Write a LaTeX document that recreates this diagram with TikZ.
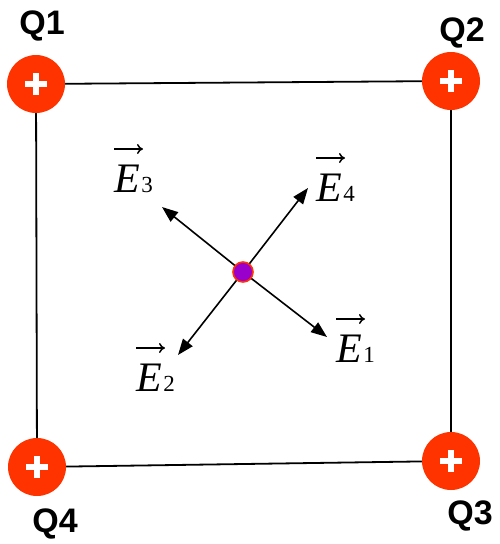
\documentclass[tikz,border=0pt]{standalone}
\usepackage{fontspec}
\setmainfont{Liberation Serif}
\newfontfamily\qfont{Liberation Sans}
\usetikzlibrary{arrows.meta}
\definecolor{qred}{HTML}{FF3300}
\definecolor{dotpurple}{HTML}{9900CC}
\newcommand{\subE}[1]{\textit{E}\kern1.5pt{\fontsize{23}{23}\selectfont #1}}
\begin{document}
\begin{tikzpicture}[x=1pt,y=-1pt,
  charge/.style={circle,fill=qred,minimum size=58pt,inner sep=0pt},
  qlabel/.style={font=\qfont\bfseries\fontsize{34}{34}\selectfont,inner sep=0pt},
  elabel/.style={font=\fontsize{42}{42}\selectfont,inner sep=0pt,anchor=base west},
  field/.style={line width=1.6pt,-{Triangle[length=16pt,width=12pt]}},
  vecarrow/.style={line width=1.5pt,-{To[length=6pt,width=10pt]}},
  side/.style={line width=1.8pt}]
\useasboundingbox (0,0) rectangle (499,544);
\node[charge] (q1) at (36,84) {};
\node[charge] (q2) at (451,81) {};
\node[charge] (q3) at (451,461) {};
\node[charge] (q4) at (37,467) {};
\draw[side] (q1) -- (q2);
\draw[side] (q2) -- (q3);
\draw[side] (q3) -- (q4);
\draw[side] (q4) -- (q1);
\foreach \q in {q1,q2,q3,q4}{
  \draw[white,line width=5.5pt] ([xshift=-11pt]\q.center) -- ([xshift=11pt]\q.center);
  \draw[white,line width=5.5pt] ([yshift=-11pt]\q.center) -- ([yshift=11pt]\q.center);
}
\node[qlabel] (l1) at (42,26) {Q1};
\node[qlabel] (l2) at (462,33) {Q2};
\node[qlabel] (l3) at (470,516) {Q3};
\node[qlabel] (l4) at (55,524) {Q4};
\coordinate (c) at (243,272);
\coordinate (t1) at (327,337);
\coordinate (t2) at (178,355);
\coordinate (t3) at (162,207);
\coordinate (t4) at (308,188);
\draw[field] (c) -- (t1);
\draw[field] (c) -- (t2);
\draw[field] (c) -- (t3);
\draw[field] (c) -- (t4);
\node[circle,fill=dotpurple,draw=qred,line width=1.6pt,minimum size=20pt,inner sep=0pt] (p) at (c) {};
\node[elabel] (e1) at (336,362) {\subE{1}};
\node[elabel] (e2) at (136,391) {\subE{2}};
\node[elabel] (e3) at (114,192) {\subE{3}};
\node[elabel] (e4) at (316,201) {\subE{4}};
\foreach \e in {e1,e2,e3,e4}{
  \draw[vecarrow] ([shift={(0pt,43pt)}]\e.base west) -- ([shift={(29pt,43pt)}]\e.base west);
}
\end{tikzpicture}
\end{document}
